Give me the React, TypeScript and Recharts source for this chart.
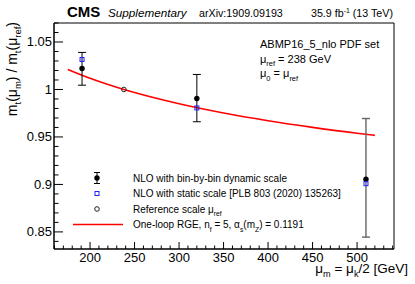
import {
   ComposedChart,
   Line,
   Scatter,
   ErrorBar,
   XAxis,
   YAxis,
   ReferenceArea
} from 'recharts';

// dynamic-scale NLO points (mu_m in GeV)
const dynX = [191, 320, 510];
const dynY = [1.0221, 0.9905, 0.9054];
const dynLow = [1.0045, 0.966, 0.8445];
const dynHigh = [1.039, 1.0158, 0.9694];

// static-scale NLO points
const staticY = [1.0316, 0.9806, 0.9008];

// reference scale
const refX = [238];
const refY = [1.0];

// one-loop RGE curve
const rgeX = [175, 200, 238, 250, 300, 350, 400, 450, 500, 520];
const rgeY = [1.0211, 1.0118, 1.0, 0.9967, 0.9849, 0.9752, 0.9671, 0.9601, 0.9539, 0.9517];

// axis ticks
const xTicks = [160, 170, 180, 190, 200, 210, 220, 230, 240, 250, 260, 270, 280, 290, 300, 310, 320, 330, 340, 350, 360, 370, 380, 390, 400, 410, 420, 430, 440, 450, 460, 470, 480, 490, 500, 510, 520, 530, 540];
const xMajor = [200, 250, 300, 350, 400, 450, 500];
const yTicks = [0.84, 0.85, 0.86, 0.87, 0.88, 0.89, 0.9, 0.91, 0.92, 0.93, 0.94, 0.95, 0.96, 0.97, 0.98, 0.99, 1, 1.01, 1.02, 1.03, 1.04, 1.05, 1.06, 1.07];
const yMajor = [0.85, 0.9, 0.95, 1, 1.05];

const X_DOMAIN = [159.5, 541.5];
const Y_DOMAIN = [0.832, 1.07];
const FONT = '"Liberation Sans", Arial, sans-serif';

const dynData = dynX.map((x, i) => ({
   x,
   y: dynY[i],
   err: [dynY[i] - dynLow[i], dynHigh[i] - dynY[i]]
}));
const staticData = dynX.map((x, i) => ({ x, y: staticY[i] }));
const refData = refX.map((x, i) => ({ x, y: refY[i] }));
const rgeData = rgeX.map((x, i) => ({ x, y: rgeY[i] }));

const isMajor = (list: number[], v: number) => list.some((m) => Math.abs(m - v) < 1e-6);

// ROOT style: ticks point into the frame
const XTick = (props: any) => {
   const { x, y, payload } = props;
   const major = isMajor(xMajor, payload.value);
   return (
      <g>
         <line x1={x} x2={x} y1={y} y2={y - (major ? 7 : 3.5)} stroke='#000' strokeWidth={1} />
         {major && (
            <text x={x} y={y + 13} textAnchor='middle' fontSize={13} fontFamily={FONT} fill='#000'>
               {payload.value}
            </text>
         )}
      </g>
   );
};

const YTick = (props: any) => {
   const { x, y, payload } = props;
   const major = isMajor(yMajor, payload.value);
   return (
      <g>
         <line x1={x} x2={x + (major ? 9 : 4.5)} y1={y} y2={y} stroke='#000' strokeWidth={1} />
         {major && (
            <text x={x - 2} y={y + 4.5} textAnchor='end' fontSize={13} fontFamily={FONT} fill='#000'>
               {String(Math.round(payload.value * 100) / 100)}
            </text>
         )}
      </g>
   );
};

const Dot = (props: any) => <circle cx={props.cx} cy={props.cy} r={2.7} fill='#000' />;
const Square = (props: any) => (
   <rect x={props.cx - 2} y={props.cy - 2} width={4} height={4} fill='none' stroke='#2020ff' strokeWidth={1} />
);
const Ring = (props: any) => (
   <circle cx={props.cx} cy={props.cy} r={2.3} fill='none' stroke='#222' strokeWidth={1} />
);

const Sub = ({ children, dy = 3.5 }: { children: any; dy?: number }) => (
   <>
      <tspan dy={dy} fontSize='0.68em'>{children}</tspan>
      <tspan dy={-dy}>{'\u200B'}</tspan>
   </>
);

export default function App() {
   return (
      <div style={{ position: 'absolute', left: 0, top: 0, width: 415, height: 284, background: '#fff' }}>
         <ComposedChart width={415} height={284} margin={{ top: 23, right: 21, bottom: 34, left: 53 }}>
            <XAxis
               type='number'
               dataKey='x'
               domain={X_DOMAIN}
               allowDataOverflow
               ticks={xTicks}
               interval={0}
               tick={<XTick />}
               tickLine={false}
               tickSize={0}
               tickMargin={0}
               height={1}
               axisLine={{ stroke: '#000' }}
            />
            <YAxis
               type='number'
               dataKey='y'
               domain={Y_DOMAIN}
               allowDataOverflow
               ticks={yTicks}
               interval={0}
               tick={<YTick />}
               tickLine={false}
               tickSize={0}
               tickMargin={0}
               width={1}
               axisLine={{ stroke: '#000' }}
            />
            <ReferenceArea
               x1={X_DOMAIN[0]}
               x2={X_DOMAIN[1]}
               y1={Y_DOMAIN[0]}
               y2={Y_DOMAIN[1]}
               ifOverflow='visible'
               fill='#fff'
               fillOpacity={0}
               stroke='#000'
               strokeWidth={1}
               strokeOpacity={1}
            />
            <Line
               data={rgeData}
               dataKey='y'
               type='monotone'
               stroke='#ff0000'
               strokeWidth={1.6}
               dot={false}
               isAnimationActive={false}
            />
            <Scatter data={dynData.slice(0, 2)} dataKey='y' shape={<Dot />} isAnimationActive={false}>
               <ErrorBar dataKey='err' direction='y' width={4} stroke='#000' strokeWidth={1} isAnimationActive={false} />
            </Scatter>
            <Scatter data={dynData.slice(2)} dataKey='y' shape={<Dot />} isAnimationActive={false}>
               <ErrorBar dataKey='err' direction='y' width={4} stroke='#666' strokeWidth={1.4} isAnimationActive={false} />
            </Scatter>
            <Scatter data={staticData} dataKey='y' shape={<Square />} isAnimationActive={false} />
            <Scatter data={refData} dataKey='y' shape={<Ring />} isAnimationActive={false} />
         </ComposedChart>

         <svg
            width={415}
            height={284}
            style={{ position: 'absolute', left: 0, top: 0, pointerEvents: 'none' }}
            fontFamily={FONT}
         >
            {/* header */}
            <text x={67} y={17} fontSize={15} fontWeight='bold'>CMS</text>
            <text x={108} y={17} fontSize={11.7} fontStyle='italic'>Supplementary</text>
            <text x={199} y={17} fontSize={10.7}>arXiv:1909.09193</text>
            <text x={393} y={17} fontSize={10.7} textAnchor='end'>
               35.9 fb<tspan dy={-4.5} fontSize='0.65em'>-1</tspan><tspan dy={4.5}> (13 TeV)</tspan>
            </text>

            {/* annotation */}
            <text x={260} y={48} fontSize={11}>ABMP16_5_nlo PDF set</text>
            <text x={260} y={62.5} fontSize={11}>
               μ<Sub dy={3.5}>ref</Sub> = 238 GeV
            </text>
            <text x={260} y={77} fontSize={11}>
               μ<Sub dy={3.5}>0</Sub> = μ<Sub dy={3.5}>ref</Sub>
            </text>

            {/* axis titles */}
            <text x={408} y={273} fontSize={13.5} textAnchor='end'>
               μ<Sub dy={4}>m</Sub> = μ<Sub dy={4}>k</Sub>/2 [GeV]
            </text>
            <text transform='translate(17,22) rotate(-90)' fontSize={14} textAnchor='end'>
               m<Sub dy={4}>t</Sub>(μ<Sub dy={4}>m</Sub>) / m<Sub dy={4}>t</Sub>(μ<Sub dy={4}>ref</Sub>)
            </text>

            {/* legend */}
            <line x1={97} x2={97} y1={172.5} y2={183.5} stroke='#000' />
            <line x1={94} x2={100} y1={172.5} y2={172.5} stroke='#000' />
            <line x1={94} x2={100} y1={183.5} y2={183.5} stroke='#000' />
            <circle cx={97} cy={178} r={2.7} fill='#000' />
            <text x={133} y={181.5} fontSize={10}>NLO with bin-by-bin dynamic scale</text>

            <rect x={95} y={191.5} width={4} height={4} fill='none' stroke='#2020ff' />
            <text x={133} y={197} fontSize={10}>NLO with static scale [PLB 803 (2020) 135263]</text>

            <circle cx={97} cy={209} r={2.3} fill='none' stroke='#222' />
            <text x={133} y={212.5} fontSize={10}>
               Reference scale μ<Sub dy={3.5}>ref</Sub>
            </text>

            <line x1={73} x2={123} y1={224.5} y2={224.5} stroke='#ff0000' strokeWidth={1.6} />
            <text x={133} y={228} fontSize={10}>
               One-loop RGE, n<Sub dy={3.5}>f</Sub> = 5, α<Sub dy={3.5}>s</Sub>(m<Sub dy={3.5}>Z</Sub>) = 0.1191
            </text>
         </svg>
      </div>
   );
}
